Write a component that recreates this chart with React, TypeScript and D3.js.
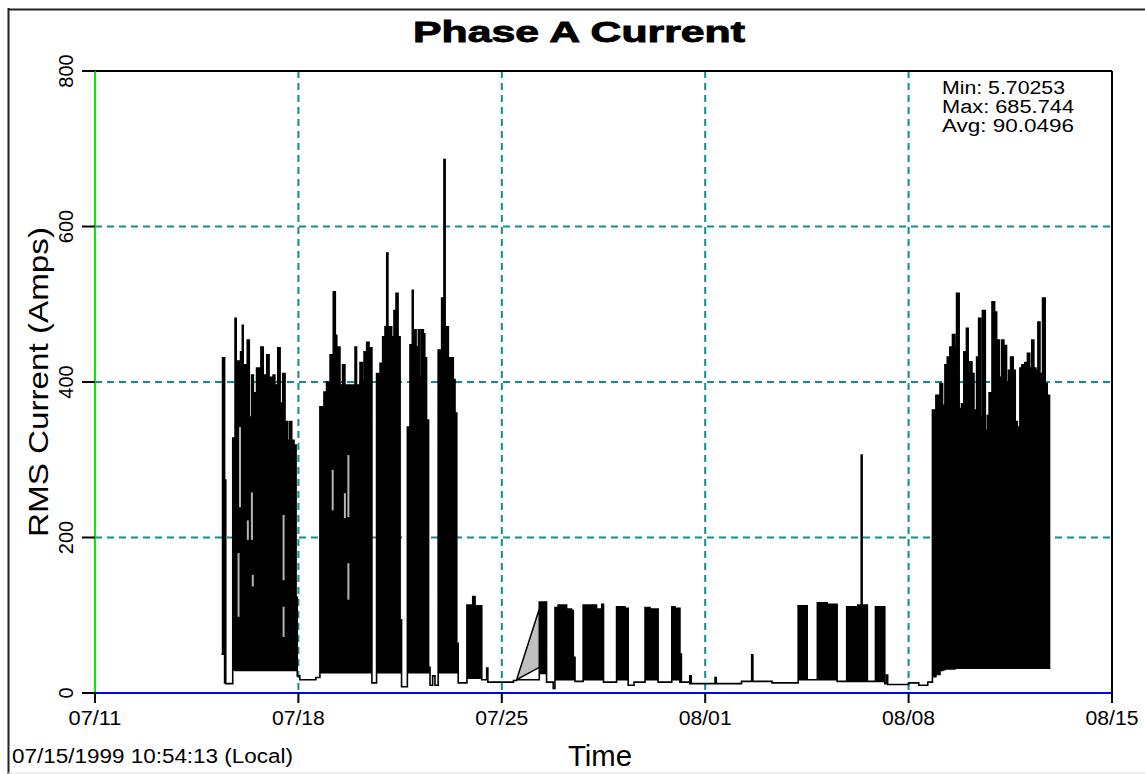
import React from "react";
import * as d3 from "d3";

// [day counted from 07/01 (so 08/01 = 32), low amps, high amps]
type Pt = [number, number, number];

// first work week, recording starts 07/15 10:54
const burstJul15: Pt[] = [
  [15.35, 50, 50], [15.39, 50, 431], [15.46, 13, 274], [15.5, 12, 12],
  [15.74, 30, 328], [15.82, 29, 482], [15.86, 29, 427], [16.01, 29, 439],
  [16.07, 29, 473], [16.1, 29, 422], [16.24, 29, 454], [16.31, 29, 355],
  [16.39, 29, 409], [16.45, 29, 386], [16.51, 29, 355], [16.56, 29, 418],
  [16.71, 29, 445], [16.79, 29, 409], [16.91, 29, 435], [16.99, 29, 406],
  [17.08, 29, 386], [17.13, 29, 409], [17.19, 29, 396], [17.29, 29, 444],
  [17.37, 29, 373], [17.46, 29, 411], [17.54, 29, 349], [17.62, 29, 325],
  [17.69, 29, 349], [17.77, 29, 325], [17.85, 29, 319], [17.92, 29, 123],
  [17.96, 22, 22], [18.05, 17, 17], [18.6, 20, 20],
];

// second work week (07/19 - 07/24)
const burstJul19: Pt[] = [
  [18.74, 26, 368], [18.88, 26, 387], [18.97, 26, 400], [19.09, 26, 435],
  [19.2, 26, 516], [19.27, 26, 460], [19.32, 26, 445], [19.43, 26, 396],
  [19.52, 26, 422], [19.6, 26, 396], [19.95, 26, 445], [20.0, 26, 396],
  [20.12, 26, 425], [20.2, 26, 400], [20.26, 26, 439], [20.35, 26, 451],
  [20.43, 26, 444], [20.53, 13, 13],
  [20.69, 26, 411], [20.81, 26, 424], [20.9, 26, 458], [20.98, 26, 471],
  [21.04, 26, 566], [21.08, 26, 471], [21.21, 26, 458], [21.29, 26, 492],
  [21.36, 26, 514], [21.43, 26, 458], [21.5, 26, 94], [21.55, 8, 8],
  [21.75, 26, 342], [21.84, 26, 448], [21.92, 26, 518], [21.95, 26, 467],
  [22.05, 26, 445], [22.13, 26, 467], [22.18, 26, 406], [22.24, 26, 467],
  [22.3, 26, 462], [22.35, 26, 431], [22.41, 26, 351], [22.48, 26, 33],
  [22.53, 10, 10], [22.62, 22, 22], [22.7, 10, 10],
  [22.81, 26, 441], [22.93, 26, 508], [23.01, 26, 686], [23.05, 26, 471],
  [23.16, 26, 431], [23.33, 26, 403], [23.39, 26, 360], [23.45, 26, 64],
  [23.5, 13, 13],
  [23.8, 19, 113], [24.0, 19, 124], [24.08, 19, 112], [24.31, 17, 17],
  [24.48, 17, 32], [24.52, 14, 14], [25.4, 16, 16], [25.51, 17, 17],
];

// light load 07/26 - 07/31
const lightJul26: Pt[] = [
  [26.29, 25, 117], [26.54, 14, 14], [26.77, 5.7, 5.7],
  [26.83, 17, 110], [26.94, 17, 113], [27.23, 17, 108], [27.4, 17, 106],
  [27.46, 17, 46], [27.52, 15, 15],
  [27.8, 17, 113], [28.26, 17, 108], [28.44, 17, 114], [28.5, 14, 14],
  [28.95, 17, 111], [29.24, 17, 109], [29.35, 10, 10], [29.55, 14, 14],
  [29.93, 17, 110], [30.1, 17, 108], [30.38, 14, 14],
  [30.85, 17, 111], [30.96, 17, 109], [31.13, 14, 50], [31.18, 14, 14],
];

// idle, then light load 08/04 - 08/07
const lightAug04: Pt[] = [
  [31.47, 12, 22], [31.52, 12, 12], [32.34, 12, 20], [32.38, 12, 12],
  [33.25, 15, 15], [33.6, 15, 49], [33.64, 15, 15], [34.3, 13, 13],
  [35.2, 17, 112], [35.51, 17, 17], [35.86, 17, 116], [36.2, 17, 114],
  [36.54, 15, 15], [36.87, 15, 111], [37.25, 15, 113], [37.37, 15, 306],
  [37.4, 15, 113], [37.58, 15, 15], [37.86, 15, 111], [38.18, 12, 12],
  [38.24, 12, 23], [38.28, 11, 11], [39.0, 13, 13], [39.35, 10, 10],
  [39.66, 14, 14],
];

// heavy load 08/09 - 08/12
const burstAug09: Pt[] = [
  [39.82, 21, 364], [39.94, 24, 383], [40.08, 29, 398], [40.17, 30, 370],
  [40.25, 31, 422], [40.33, 31, 432], [40.42, 31, 445], [40.51, 31, 461],
  [40.59, 32, 445], [40.65, 32, 514], [40.74, 32, 366], [40.82, 32, 372],
  [40.9, 32, 439], [40.99, 32, 469], [41.05, 32, 411], [41.11, 32, 426],
  [41.18, 32, 411], [41.25, 32, 364], [41.34, 32, 432], [41.41, 32, 482],
  [41.48, 32, 355], [41.54, 32, 492], [41.64, 32, 338], [41.71, 32, 357],
  [41.77, 32, 386], [41.87, 32, 503], [41.96, 32, 490], [42.03, 32, 454],
  [42.12, 32, 406], [42.2, 32, 454], [42.28, 32, 447], [42.37, 32, 400],
  [42.44, 32, 415], [42.51, 32, 432], [42.6, 32, 415], [42.67, 32, 349],
  [42.74, 32, 342], [42.83, 32, 418], [42.9, 32, 422], [43.0, 32, 425],
  [43.09, 32, 437], [43.17, 32, 418], [43.24, 32, 454], [43.31, 32, 418],
  [43.38, 32, 415], [43.45, 32, 477], [43.52, 32, 411], [43.61, 32, 508],
  [43.7, 32, 398], [43.77, 32, 383], [43.85, 32, 32],
];

// data gap drawn by the logger as a grey wedge
const gapJul25: Pt[] = [[25.51, 17, 17], [26.29, 33, 108]];

// grey streaks inside the dense bursts
const greyStreaks: Pt[] = [
  [15.99, 239, 342], [15.94, 98, 180], [16.26, 197, 222], [16.4, 197, 258],
  [16.43, 137, 152], [17.49, 145, 229], [17.49, 72, 111], [19.18, 235, 287],
  [19.6, 225, 257], [19.72, 226, 306], [19.72, 120, 167],
];

const tickDays = [11, 18, 25, 32, 39, 46];
const gridDays = [18, 25, 32, 39];
const yTicks = [0, 200, 400, 600, 800];
const yGrid = [200, 400, 600];
const statLines = ["Min: 5.70253", "Max: 685.744", "Avg: 90.0496"];

const day0 = new Date(1999, 6, 1).getTime();
const toDate = (d: number) => new Date(day0 + (d - 1) * 864e5);

const font = "'Liberation Sans', Arial, sans-serif";

export default function App() {
  const left = 95, right = 1112, top = 71, bottom = 693;

  const x = d3.scaleTime().domain([toDate(11), toDate(46)]).range([left, right]);
  const y = d3.scaleLinear().domain([0, 800]).range([bottom, top]);
  const fmt = d3.timeFormat("%m/%d");

  const series = [...burstJul15, ...burstJul19, ...lightJul26, ...lightAug04, ...burstAug09];

  const stepArea = d3
    .area<Pt>()
    .x((d) => x(toDate(d[0])))
    .y0((d) => y(d[1]))
    .y1((d) => y(d[2]))
    .curve(d3.curveStepAfter);

  const wedge = d3
    .area<Pt>()
    .x((d) => x(toDate(d[0])))
    .y0((d) => y(d[1]))
    .y1((d) => y(d[2]));

  const grid = "#118d8d";

  return (
    <svg
      width={1145}
      height={774}
      style={{ position: "absolute", left: 0, top: 0, background: "#fff" }}
      fontFamily={font}
    >
      {/* window frame */}
      <line x1={8.5} y1={8} x2={8.5} y2={774} stroke="#222" strokeWidth={2} />
      <line x1={8} y1={9.5} x2={1145} y2={9.5} stroke="#222" strokeWidth={2} />
      <line x1={8} y1={773} x2={1145} y2={773} stroke="#ddd" strokeWidth={1} />

      <text x={579} y={42} textAnchor="middle" fontSize={30} fontWeight="bold"
        stroke="#000" strokeWidth={0.9} textLength={332} lengthAdjust="spacingAndGlyphs">
        Phase A Current
      </text>

      {/* grid */}
      {gridDays.map((d) => (
        <line key={"gx" + d} x1={x(toDate(d))} x2={x(toDate(d))} y1={top} y2={bottom}
          stroke={grid} strokeWidth={2} strokeDasharray="7 5" />
      ))}
      {yGrid.map((v) => (
        <line key={"gy" + v} x1={left} x2={right} y1={y(v)} y2={y(v)}
          stroke={grid} strokeWidth={2} strokeDasharray="7 5" />
      ))}

      {/* series */}
      <path d={stepArea(series) ?? ""} fill="#000" stroke="#000" strokeWidth={1.6} strokeLinejoin="miter" />
      <path d={wedge(gapJul25) ?? ""} fill="#c0c0c0" stroke="#000" strokeWidth={1.5} />
      {greyStreaks.map((s, i) => (
        <line key={"s" + i} x1={x(toDate(s[0]))} x2={x(toDate(s[0]))} y1={y(s[1])} y2={y(s[2])}
          stroke="#b4b4b4" strokeWidth={2} />
      ))}

      {/* frame + axes */}
      <line x1={82} x2={right} y1={top} y2={top} stroke="#000" strokeWidth={2} />
      <line x1={right} x2={right} y1={top} y2={703} stroke="#000" strokeWidth={2} />
      <line x1={left} x2={left} y1={top} y2={bottom} stroke="#00ee00" strokeWidth={2} />
      <line x1={left} x2={right} y1={bottom} y2={bottom} stroke="#0000ff" strokeWidth={2} />

      {yTicks.map((v) => (
        <g key={"yt" + v}>
          <line x1={82} x2={left} y1={y(v)} y2={y(v)} stroke="#000" strokeWidth={2} />
          <text transform={`translate(73,${y(v)}) rotate(-90)`} textAnchor="middle" fontSize={20}>
            {v}
          </text>
        </g>
      ))}
      {tickDays.map((d) => (
        <g key={"xt" + d}>
          <line x1={x(toDate(d))} x2={x(toDate(d))} y1={bottom} y2={703} stroke="#000" strokeWidth={2} />
          <text x={x(toDate(d))} y={725} textAnchor="middle" fontSize={20} textLength={53} lengthAdjust="spacingAndGlyphs">
            {fmt(toDate(d))}
          </text>
        </g>
      ))}

      <text transform="translate(48,382) rotate(-90)" textAnchor="middle" fontSize={28} textLength={310} lengthAdjust="spacingAndGlyphs">
        RMS Current (Amps)
      </text>
      <text x={600} y={766} textAnchor="middle" fontSize={29} textLength={64} lengthAdjust="spacingAndGlyphs">
        Time
      </text>
      <text x={12} y={763} fontSize={20} textLength={281} lengthAdjust="spacingAndGlyphs">
        07/15/1999 10:54:13 (Local)
      </text>

      {statLines.map((s, i) => (
        <text key={s} x={942} y={94 + i * 19} fontSize={18} textLength={i === 0 ? 123 : 132} lengthAdjust="spacingAndGlyphs">
          {s}
        </text>
      ))}
    </svg>
  );
}
